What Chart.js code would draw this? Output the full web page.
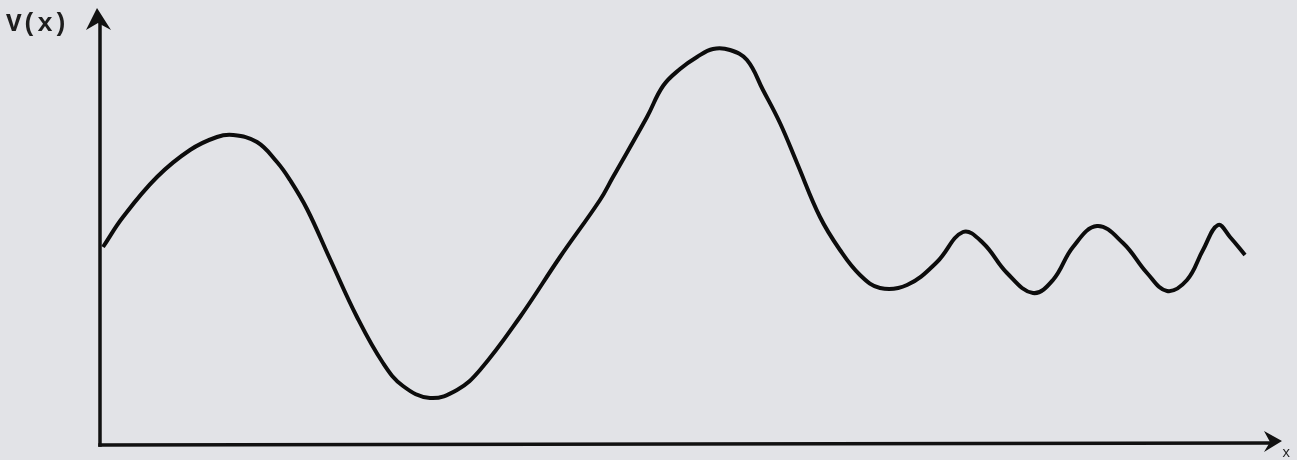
<!DOCTYPE html>
<html>
<head>
<meta charset="utf-8">
<script src="https://cdn.jsdelivr.net/npm/chart.js@4/dist/chart.umd.min.js"></script>
<style>
  html, body { margin: 0; padding: 0; background: #e2e3e7; }
  canvas { display: block; }
</style>
</head>
<body>
<canvas id="potChart" width="1297" height="460"></canvas>
<script>
// x positions along the axis (arbitrary units)
var xs = [0.3, 2.3, 5.7, 9.0, 11.7, 13.3, 15.7, 17.7, 19.0, 20.7, 23.0, 25.7, 28.3, 30.3, 33.0,
          35.7, 38.0, 42.0, 46.0, 50.0, 51.3, 54.7, 56.3, 58.0, 59.7, 61.3, 63.0, 64.7, 66.3,
          68.0, 69.7, 72.0, 74.0, 76.0, 78.0, 80.7, 83.7, 86.3, 88.3, 90.7, 93.3, 95.3, 97.3,
          99.7, 102.3, 104.7, 106.7, 108.7, 110.3, 111.8, 113.0, 114.5];
// V(x) values at those positions
var vs = [19.8, 22.8, 26.8, 29.5, 30.8, 31.0, 30.3, 28.3, 26.5, 23.6, 18.6, 12.8, 8.2, 5.9, 4.7,
          5.5, 7.5, 12.8, 18.8, 24.5, 26.8, 32.8, 35.9, 37.6, 38.8, 39.6, 39.5, 38.5, 35.5,
          32.2, 28.2, 22.8, 19.5, 17.0, 15.7, 16.0, 18.3, 21.3, 20.2, 17.2, 15.2, 16.5, 19.8,
          21.9, 20.2, 17.2, 15.4, 16.5, 19.5, 22.0, 20.8, 19.0];
var xMax = 118;
var yMax = 43.7;
var yLabel = 'V(x)';
var xLabel = 'x';

var points = xs.map(function (v, i) { return { x: v, y: vs[i] }; });

// draws the two axes with arrow heads and their labels
var axisArrows = {
    id: 'axisArrows',
    afterDraw: function (chart) {
        var ctx = chart.ctx;
        var sx = chart.scales.x, sy = chart.scales.y;
        var x0 = sx.getPixelForValue(0), y0 = sy.getPixelForValue(0);
        var xEnd = sx.getPixelForValue(xMax), yTop = sy.getPixelForValue(yMax);
        ctx.save();
        ctx.strokeStyle = '#111';
        ctx.fillStyle = '#111';
        ctx.lineWidth = 3.5;
        ctx.lineCap = 'square';
        // y axis
        ctx.beginPath();
        ctx.moveTo(x0, y0);
        ctx.lineTo(x0, yTop + 12);
        ctx.stroke();
        ctx.beginPath();
        ctx.moveTo(x0 - 3, yTop);
        ctx.lineTo(x0 + 11, yTop + 22);
        ctx.lineTo(x0 - 2, yTop + 15);
        ctx.lineTo(x0 - 14, yTop + 22);
        ctx.closePath();
        ctx.fill();
        // x axis
        ctx.beginPath();
        ctx.moveTo(x0, y0);
        ctx.lineTo(xEnd - 10, y0 - 2);
        ctx.stroke();
        ctx.beginPath();
        ctx.moveTo(xEnd + 2, y0 - 4);
        ctx.lineTo(xEnd - 16, y0 - 14);
        ctx.lineTo(xEnd - 10, y0 - 3);
        ctx.lineTo(xEnd - 16, y0 + 7);
        ctx.closePath();
        ctx.fill();
        // labels
        ctx.font = 'bold 26px "Liberation Mono", "DejaVu Sans Mono", monospace';
        ctx.textBaseline = 'alphabetic';
        ctx.textAlign = 'left';
        ctx.fillStyle = '#1e1e1e';
        ctx.fillText(yLabel, 6, 31);
        ctx.font = '14px "Liberation Mono", monospace';
        ctx.fillText(xLabel, xEnd + 2, y0 + 12);
        ctx.restore();
    }
};

var ctx = document.getElementById('potChart').getContext('2d');
var potChart = new Chart(ctx, {
    type: 'scatter',
    data: {
        datasets: [{
            data: points,
            showLine: true,
            borderColor: '#0c0c0c',
            borderWidth: 4,
            pointRadius: 0,
            tension: 0.4,
            fill: false
        }]
    },
    options: {
        responsive: false,
        animation: false,
        devicePixelRatio: 1,
        layout: { padding: { left: 100, right: 17, top: 8, bottom: 15 } },
        plugins: { legend: { display: false }, tooltip: { enabled: false } },
        scales: {
            x: { type: 'linear', min: 0, max: xMax, display: false },
            y: { type: 'linear', min: 0, max: yMax, display: false }
        }
    },
    plugins: [axisArrows]
});
</script>
</body>
</html>
